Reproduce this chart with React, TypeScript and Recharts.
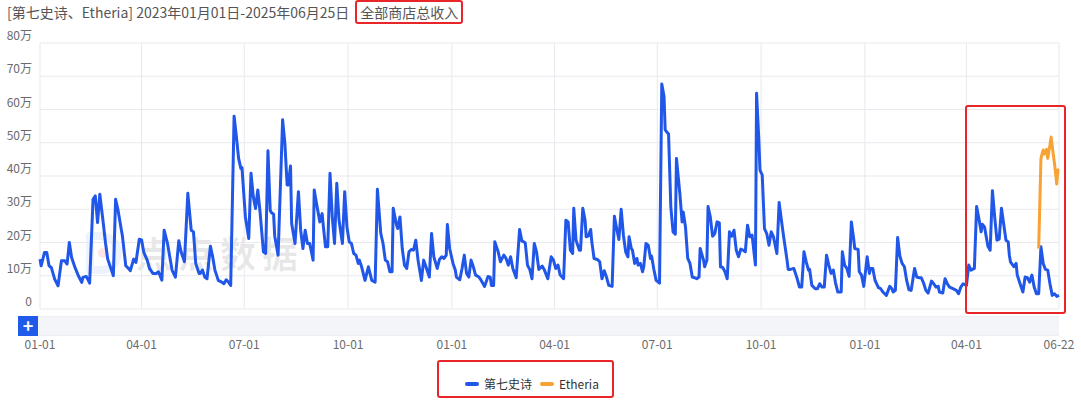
import { LineChart, Line, XAxis, YAxis, CartesianGrid } from "recharts";

// day offsets counted from 2023-01-01, values in 万
const sagaDays = [
  0, 1, 4, 6, 8, 10, 13, 16, 19, 22, 24, 26, 28, 31, 34, 37, 38, 41, 44, 47, 49, 51, 53, 56, 58, 60, 63, 65, 67, 69, 72, 73, 76, 79, 80, 83, 85, 88, 90, 92, 95, 97, 100, 103, 105, 108,
  110, 113, 115, 117, 120, 123, 125, 128, 131, 134, 136, 138, 141, 142, 144, 146, 148, 151, 153, 155, 158, 161, 163, 165, 167, 169, 172, 174, 176, 178, 179, 182, 185, 187, 189, 191, 193, 195, 198, 200, 202, 204, 205, 207, 208, 211, 215, 217, 219, 220, 222,
  223, 226, 229, 231, 233, 235, 237, 239, 242, 243, 245, 248, 250, 251, 253, 255, 257, 259, 261, 263, 265, 268, 270, 272, 274, 276, 278, 280, 282, 283, 285, 288, 291, 294, 297, 299, 302, 304, 306, 308, 310, 312, 313, 316, 317, 319, 321, 323, 325, 327, 329, 331, 333, 335, 338, 340,
  342, 345, 347, 349, 352, 354, 356, 358, 360, 361, 363, 366, 368, 369, 372, 374, 376, 378, 380, 382, 384, 386, 389, 391, 394, 397, 399, 400, 402, 403, 406, 408, 411, 413, 415, 417, 419, 422, 425, 427, 430, 432, 434, 436, 438, 440, 442, 445, 447, 450, 453,
  455, 457, 459, 461, 464, 466, 468, 470, 472, 473, 475, 478, 479, 481, 483, 484, 486, 488, 489, 491, 494, 496, 498, 500, 502, 504, 507, 509, 511, 513, 515, 517, 519, 521, 522, 524, 525, 527, 529, 530, 532, 534, 535, 537, 539, 541, 542, 544, 546, 549, 551, 553, 554, 556, 557, 559, 561, 563, 564, 567, 569, 570,
  572, 574, 576, 578, 580, 582, 584, 585, 588, 589, 591, 592, 594, 596, 598, 600, 602, 603, 605, 607, 609, 611, 613, 615, 617, 619, 621, 623, 625, 627, 629, 631, 634, 635, 637, 638, 640, 642, 644, 646, 648, 650, 653, 655, 657, 659, 662, 663, 665, 668, 669, 671, 673, 675, 677, 679, 681, 682, 684,
  687, 689, 691, 693, 695, 697, 699, 701, 703, 705, 707, 710, 711, 713, 715, 717, 719, 721, 722, 725, 726, 728, 730, 733, 735, 736, 738, 740, 743, 745, 747, 750, 753, 755, 756, 758, 760, 762, 764, 766, 768, 770, 772, 775, 777, 779, 781, 783, 785, 787, 790, 792, 794, 796, 797, 800,
  802, 804, 806, 809, 812, 814, 816, 818, 821, 823, 825, 828, 830, 832, 834, 835, 837, 840, 842, 844, 846, 848, 850, 852, 854, 856, 858, 859, 860, 863, 865, 866, 868, 871, 873, 875, 877, 879, 881, 883, 885, 887, 889, 891, 893, 895, 897, 899, 901, 903,
];
const sagaValues = [
  15, 13, 17, 17, 13, 12.5, 9, 7, 14.5, 14.5, 13.5, 20, 15.5, 12.5, 10, 8, 9.5, 9.8, 7.8, 33, 34, 26, 34.5, 26, 20, 15, 12, 10, 33, 30, 24, 22, 13, 12, 11.5, 15, 14, 21, 20.8, 17, 14.7, 12.2, 10.7, 10.7, 11.2, 8.7,
  23.7, 19.7, 15.7, 11.7, 9.6, 20.5, 17.2, 14.2, 34.8, 23.7, 23.2, 13.7, 10.7, 10.7, 11.7, 9.6, 9.1, 18.9, 15.7, 11.7, 8.6, 8.1, 7.6, 8.8, 8.1, 7.1, 58, 51.9, 45.3, 42.3, 42.5, 27.7, 21.2, 40.8, 33.8, 30.2, 35.8, 29.2, 17.2, 16.7, 47.6, 29.7, 29, 28.5, 21.9, 16.2, 56.9, 49.8, 37.3, 37.3, 43,
  25.7, 19.7, 35.3, 23.7, 18.2, 23.7, 19.7, 19.7, 14.7, 35.8, 31.8, 26.2, 28.7, 25.2, 18.7, 18.7, 40.8, 27.7, 19.7, 37.8, 26.7, 19.7, 35.3, 24.7, 20.2, 19.7, 16.7, 16.2, 13.7, 14.7, 12.7, 8.6, 12.7, 8.6, 8.1, 36, 22.7, 19.7, 14.7, 14.2, 11.2, 11.2, 30.3, 25.2, 24.2, 27.7, 18.2, 13.2, 12.2, 17.2, 17.9, 17.7, 20.7, 14.7, 8.6, 14.7,
  12.7, 9.6, 22.7, 15.7, 12.2, 14.9, 15.7, 15.2, 16.2, 25.4, 18.2, 13.7, 11.7, 9.6, 8.8, 12.2, 16.2, 10.7, 9.6, 14.7, 12.7, 10.2, 9.6, 8.6, 6.8, 9.8, 9.6, 7.1, 7.1, 20.2, 17.2, 14.2, 16.2, 15.2, 13.2, 15.7, 12.2, 9.4, 23.9, 20.5, 19.9, 13.2, 11.9, 9.1, 19.7, 17.2, 11.9, 12.9, 11.7, 9.1, 15.7,
  14.7, 12.2, 13.2, 10.2, 9.1, 26.7, 26.2, 17.7, 16.7, 30.3, 20.7, 17.7, 17.7, 30.3, 26.7, 21.7, 22, 23.9, 20.2, 15.2, 14.9, 14.2, 9.1, 11.5, 9.6, 7.1, 6.8, 27.9, 24.2, 20.9, 30, 22.2, 17.2, 15.7, 21.7, 18.2, 17.7, 13.7, 15.2, 13.2, 13.7, 11.2, 12.7, 19.7, 19.2, 15.2, 15.9, 11.9, 8.6, 7.8, 67.7, 63.9, 53.9, 53, 52.7, 30.8, 23.2, 22.5, 45.3, 34.8, 26.2, 29.2,
  24.7, 15.2, 13.7, 9.6, 9.4, 9.1, 9.6, 18.2, 14.7, 12.7, 14.7, 30.8, 27.7, 21.9, 22.7, 26.2, 25.9, 12.7, 12.5, 11.2, 9.1, 23.2, 21.9, 23.7, 17.7, 15.7, 18, 17.7, 17.2, 25.2, 21.7, 22.2, 13.2, 64.9, 50.9, 41.8, 40.3, 24.2, 22.7, 19.2, 23.2, 21.7, 16.7, 32, 26.7, 21.7, 14.7, 11.9, 11.9, 12.2, 11.2, 9.1, 6.6, 6.6, 17.2, 14.2, 11.7, 11.9, 7.1,
  6.1, 6.1, 7.6, 6.6, 6.6, 16.2, 13.2, 10.7, 11.7, 7.8, 5.1, 5.1, 17.2, 13.2, 12.2, 9.8, 26.2, 21.2, 18.2, 17.9, 11.2, 10.2, 6.8, 15.7, 10.7, 12.2, 12.2, 8.6, 6.4, 6.1, 5.1, 4.1, 6.8, 6.1, 5.1, 5.6, 21.5, 15.9, 13.7, 12.7, 8.6, 5.8, 5.6, 12.2, 9.6, 9.4, 9.4, 7.8, 5.6, 4.8, 8.4, 7.6, 6.6, 6.8, 5.1, 4.8,
  9.1, 7.6, 6.6, 6.1, 5.6, 4.6, 6.6, 7.6, 7.1, 13.2, 11.7, 12.2, 30.8, 27.2, 23.2, 25.5, 24.7, 18.9, 17.7, 35.6, 27.7, 20.7, 21, 30.3, 25.5, 20.7, 20.2, 16.2, 14.2, 12.7, 13.7, 10.2, 8.1, 5.1, 9.6, 9.4, 8.1, 10.2, 6.6, 4.6, 4.6, 18.7, 13.7, 11.9, 11.7, 7.6, 4.1, 4.6, 3.8, 4.1,
];

const etheriaDays = [885, 887, 889, 890, 892, 893, 895, 896, 898, 899, 901, 902, 903];
const etheriaValues = [18.2, 45.3, 47.8, 46.6, 48, 45.3, 49.3, 51.7, 46.3, 43.8, 37.6, 41.8, 42];

const tickDays = [0, 90, 181, 273, 365, 456, 547, 639, 731, 821, 903];
const tickLabels = ["01-01", "04-01", "07-01", "10-01", "01-01", "04-01", "07-01", "10-01", "01-01", "04-01", "06-22"];
const yTicks = [0, 10, 20, 30, 40, 50, 60, 70, 80];

const seriesNames = ["第七史诗", "Etheria"];
const BLUE = "#2157E8";
const ORANGE = "#F7A234";
const RED = "#E8262A";
const FONT = '"Noto Sans CJK SC", "Noto Sans", sans-serif';

const sagaData = sagaDays.map((d, i) => ({ day: d, value: sagaValues[i] }));
const etheriaData = etheriaDays.map((d, i) => ({ day: d, value: etheriaValues[i] }));

const XTick = ({ x, y, payload }: any) => {
  const idx = tickDays.indexOf(payload.value);
  return (
    <text x={x} y={y} dy={40} textAnchor="middle" fontSize={12} fill="#6b6b6b" fontFamily={FONT}>
      {tickLabels[idx]}
    </text>
  );
};

const YTick = ({ x, y, payload }: any) => (
  <text x={x} y={y} dy={-3} textAnchor="end" fontSize={12} fill="#6b6b6b" fontFamily={FONT}>
    {payload.value === 0 ? "0" : `${payload.value}万`}
  </text>
);

export default function App() {
  return (
    <div style={{ position: "absolute", left: 0, top: 0, width: 1081, height: 407, background: "#fff", fontFamily: FONT }}>
      {/* title */}
      <div style={{ position: "absolute", left: 7, top: 2, fontSize: 14, color: "#555", whiteSpace: "nowrap", lineHeight: "20px" }}>
        [第七史诗、Etheria] 2023年01月01日-2025年06月25日
        <span style={{ marginLeft: 6, padding: "0 3px", border: `2px solid ${RED}`, borderRadius: 3 }}>全部商店总收入</span>
      </div>

      {/* watermark */}
      <div style={{ position: "absolute", left: 86, top: 232, width: 36, height: 42, borderRadius: "4px 22px 22px 4px", border: "8px solid rgba(40,90,230,0.08)", boxSizing: "border-box" }} />
      <div style={{ position: "absolute", left: 98, top: 248, width: 10, height: 10, borderRadius: 5, background: "rgba(240,80,80,0.15)" }} />
      <div style={{ position: "absolute", left: 136, top: 226, fontSize: 36, fontWeight: 700, color: "rgba(0,0,0,0.09)", letterSpacing: 6, whiteSpace: "nowrap" }}>
        点点数据
      </div>

      <div style={{ position: "absolute", left: 0, top: 0 }}>
        <LineChart width={1081} height={360} margin={{ top: 43, right: 22, bottom: 0, left: 0 }}>
          <CartesianGrid stroke="#E8E9EE" strokeWidth={1} />
          <XAxis
            dataKey="day"
            type="number"
            domain={[0, 903]}
            ticks={tickDays}
            tick={<XTick />}
            axisLine={false}
            tickLine={false}
            tickSize={0}
            tickMargin={0}
            height={51}
            interval={0}
            allowDuplicatedCategory={false}
          />
          <YAxis
            type="number"
            domain={[0, 80]}
            ticks={yTicks}
            tick={<YTick />}
            axisLine={false}
            tickLine={false}
            tickSize={0}
            tickMargin={8}
            width={40}
            interval={0}
          />
          <Line data={sagaData} dataKey="value" name={seriesNames[0]} type="linear" stroke={BLUE} strokeWidth={3} strokeLinejoin="round" dot={false} isAnimationActive={false} />
          <Line data={etheriaData} dataKey="value" name={seriesNames[1]} type="linear" stroke={ORANGE} strokeWidth={3} strokeLinejoin="round" dot={false} isAnimationActive={false} />
        </LineChart>
      </div>

      {/* highlight box */}
      <div style={{ position: "absolute", left: 965, top: 105, width: 101, height: 209, border: `2px solid ${RED}`, borderRadius: 3, boxSizing: "border-box" }} />

      {/* zoom slider band */}
      <div style={{ position: "absolute", left: 18, top: 316, width: 1041, height: 20, background: "#F4F5F9", borderTop: "1px solid #ECEEF3", borderBottom: "1px solid #ECEEF3", boxSizing: "border-box" }} />
      <div style={{ position: "absolute", left: 18, top: 316, width: 20, height: 20, background: "#2159E8", color: "#fff", fontSize: 18, lineHeight: "19px", textAlign: "center", fontWeight: 700 }}>+</div>

      {/* legend */}
      <div style={{ position: "absolute", left: 437, top: 360, width: 177, height: 38, border: `2px solid ${RED}`, borderRadius: 3, boxSizing: "border-box" }} />
      <div style={{ position: "absolute", left: 465, top: 376, display: "flex", alignItems: "center", fontSize: 12, color: "#333", lineHeight: "16px" }}>
        {seriesNames.map((n, i) => (
          <div key={n} style={{ display: "flex", alignItems: "center", marginRight: 8 }}>
            <span style={{ display: "inline-block", width: 14, height: 4, borderRadius: 2, background: i === 0 ? BLUE : ORANGE, marginRight: 5 }} />
            <span>{n}</span>
          </div>
        ))}
      </div>
    </div>
  );
}
